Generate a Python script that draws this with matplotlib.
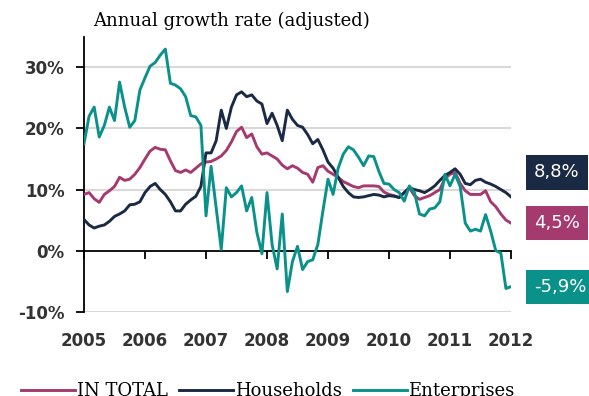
import numpy as np
import pandas as pd
import matplotlib
matplotlib.use("Agg")
import matplotlib.pyplot as plt

# monthly observations, Jan 2005 .. Jan 2012
months = pd.date_range("2005-01-01", "2012-01-01", freq="MS")

total = [
    9.2, 9.5, 8.5, 7.9, 9.2, 9.8, 10.5, 12.0, 11.5, 11.7, 12.5, 13.6,
    15.0, 16.3, 16.9, 16.6, 16.5, 14.7, 13.1, 12.8, 13.2, 12.8, 13.5, 14.2,
    14.5, 14.6, 15.0, 15.5, 16.4, 17.8, 19.5, 20.2, 18.5, 19.1, 17.0, 15.8,
    16.0, 15.5, 15.0, 14.0, 13.4, 13.9, 13.5, 12.8, 12.5, 11.2, 13.6, 13.9,
    13.0, 12.5, 12.0, 11.3, 10.9, 10.5, 10.3, 10.6, 10.6, 10.6, 10.5, 9.6,
    9.2, 9.0, 8.7, 9.5, 10.3, 9.0, 8.4, 8.7, 9.0, 9.5, 10.0, 11.8,
    12.5, 12.8, 11.0, 9.8, 9.2, 9.2, 9.2, 9.8, 8.0, 7.2, 6.0, 5.0,
    4.5,
]

households = [
    5.1, 4.2, 3.7, 4.0, 4.2, 4.8, 5.6, 6.0, 6.5, 7.5, 7.6, 8.0,
    9.5, 10.5, 11.0, 10.0, 9.2, 8.0, 6.5, 6.5, 7.6, 8.3, 8.9, 10.5,
    16.0, 16.0, 18.0, 23.0, 20.0, 23.5, 25.5, 26.0, 25.2, 25.5, 24.5, 24.0,
    20.8, 22.5, 20.5, 18.0, 23.0, 21.5, 20.5, 20.2, 19.0, 17.5, 18.2, 16.5,
    14.5, 13.5, 12.0, 10.5, 9.5, 8.8, 8.7, 8.8, 9.0, 9.2, 9.1, 8.8,
    9.0, 8.9, 8.7, 9.5, 10.3, 10.0, 9.8, 9.5, 10.0, 10.6, 11.5, 12.3,
    12.8, 13.4, 12.5, 11.0, 10.8, 11.5, 11.7, 11.2, 10.9, 10.5, 10.0, 9.5,
    8.8,
]

enterprises = [
    17.5, 22.0, 23.5, 18.6, 20.5, 23.5, 21.3, 27.6, 23.5, 20.2, 21.3, 26.3,
    28.3, 30.2, 30.8, 32.0, 33.0, 27.4, 27.1, 26.5, 25.2, 22.1, 21.9, 20.5,
    5.7, 13.8, 7.0, 0.2, 10.3, 8.8, 9.5, 10.6, 6.5, 8.7, 3.0, -0.5,
    9.5, 1.0, -3.0, 6.0, -6.7, -1.8, 0.7, -3.1, -1.8, -1.5, 1.0, 6.5,
    11.7, 9.2, 13.5, 15.8, 17.0, 16.5, 15.3, 13.9, 15.5, 15.4, 13.0, 11.0,
    10.9, 10.0, 9.5, 8.1, 10.6, 9.5, 6.0, 5.7, 6.8, 7.0, 8.0, 12.5,
    10.6, 12.5, 10.5, 4.5, 3.2, 3.5, 3.2, 5.9, 3.2, 0.0, -0.4, -6.2,
    -5.9,
]

series_names = ["IN TOTAL", "Households", "Enterprises"]
series_colors = ["#A53A6F", "#1B2A44", "#0A918A"]
end_labels = ["4,5%", "8,8%", "-5,9%"]

years = list(range(2005, 2013))
y_ticks = [-10, 0, 10, 20, 30]
y_tick_labels = ["-10%", "0%", "10%", "20%", "30%"]


def main():
    x = months.year + (months.month - 1) / 12.0

    fig = plt.figure(figsize=(5.89, 3.96), dpi=100)
    ax = fig.add_axes([0.1426, 0.2129, 0.725, 0.694])

    ax.set_xlim(years[0], years[-1])
    ax.set_ylim(-10, 35)

    for v in y_ticks:
        if v != 0:
            ax.axhline(v, color="#D9D9D9", linewidth=1.5, zorder=0)

    data = [total, households, enterprises]
    for vals, name, col in zip(data, series_names, series_colors):
        ax.plot(x, vals, color=col, linewidth=2.1, label=name, zorder=3)

    # spines: left solid, bottom moved to the zero line
    for s in ["top", "right"]:
        ax.spines[s].set_visible(False)
    ax.spines["left"].set_linewidth(1.3)
    ax.spines["bottom"].set_position(("data", 0))
    ax.spines["bottom"].set_linewidth(1.3)
    ax.spines["bottom"].set_zorder(2)

    ax.set_xticks(years)
    ax.set_xticklabels([])
    ax.tick_params(axis="x", direction="out", length=6, width=1.3)
    ax.set_yticks(y_ticks)
    ax.set_yticklabels(y_tick_labels)
    ax.tick_params(axis="y", direction="out", length=6, width=1.3,
                   labelsize=12, labelcolor="#333333", pad=8)
    for lbl in ax.get_yticklabels():
        lbl.set_fontweight("bold")

    for yr in years:
        ax.annotate(str(yr), xy=(yr, -10), xytext=(0, -21),
                    textcoords="offset points", ha="center", va="center",
                    fontsize=12, fontweight="bold", color="#333333",
                    annotation_clip=False)

    # end-value boxes on the right
    label_pos = [4.5, 12.8, -5.9]
    for txt, col, yp in zip(end_labels, series_colors, label_pos):
        ax.text(1.054, yp, txt, transform=ax.get_yaxis_transform(),
                ha="left", va="center", fontsize=13, color="white",
                bbox=dict(boxstyle="square,pad=0.45", facecolor=col,
                          edgecolor="none"))

    fig.text(0.393, 0.948, "Annual growth rate (adjusted)", ha="center",
             va="center", fontsize=13, family="DejaVu Serif", color="black")

    fig.legend(loc="center", bbox_to_anchor=(0.455, 0.012), ncol=3,
               frameon=False, handlelength=3.0, handletextpad=0.1,
               columnspacing=0.6, prop={"family": "DejaVu Serif", "size": 13})

    fig.savefig("out.png", dpi=100, facecolor="white")
    plt.close(fig)


if __name__ == "__main__":
    main()
